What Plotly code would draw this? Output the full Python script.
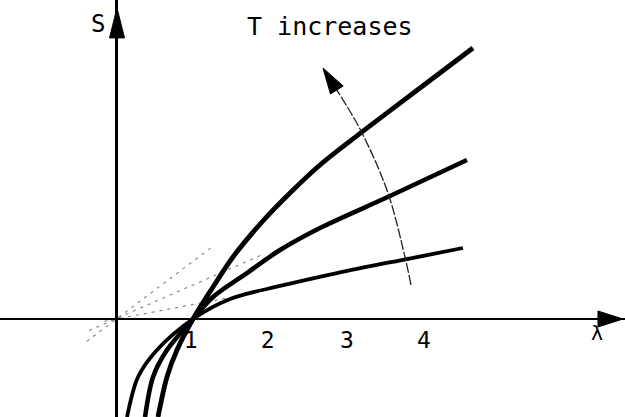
import math
import plotly.graph_objects as go

# ---- data (lambda, S) ----
lam_high = [0.545, 0.662, 0.792, 1.0, 1.260, 1.519, 1.896, 2.260, 2.649, 3.195, 3.948, 4.636]
s_high = [-1.273, -0.753, -0.403, 0.0, 0.416, 0.805, 1.260, 1.636, 2.000, 2.429, 3.000, 3.519]

lam_mid = [0.377, 0.481, 0.662, 1.0, 1.260, 1.701, 2.130, 2.649, 3.558, 4.558]
s_mid = [-1.273, -0.753, -0.403, 0.0, 0.286, 0.597, 0.896, 1.182, 1.597, 2.065]

lam_low = [0.143, 0.286, 0.532, 1.0, 1.481, 2.130, 2.870, 3.779, 4.506]
s_low = [-1.273, -0.753, -0.403, 0.0, 0.260, 0.429, 0.597, 0.779, 0.922]

# dotted lines through the origin
dot_lam = [[-0.38, 1.26], [-0.35, 1.91], [-0.15, 1.48]]
dot_s = [[-0.29, 0.945], [-0.15, 0.84], [-0.03, 0.28]]

# "T increases" arc
arc_lam = [3.831, 3.753, 3.532, 3.195, 2.909, 2.779]
arc_s = [0.442, 0.805, 1.636, 2.416, 2.909, 3.104]
arc_tip = (2.688, 3.260)

tick_vals = [0.97, 1.97, 3.0, 4.0]
tick_text = ["1", "2", "3", "4"]

PX = 77.0  # pixels per unit (both axes)
X_RANGE = [-116 / PX, (625 - 116) / PX]
Y_RANGE = [(319 - 417) / PX, 319 / PX]

FONT = "DejaVu Sans Mono"

fig = go.Figure()

for lx, sy in zip(dot_lam, dot_s):
    fig.add_trace(go.Scatter(x=lx, y=sy, mode="lines",
                             line=dict(color="#808080", width=1.1, dash="3px,5px"),
                             hoverinfo="skip", showlegend=False))

for lx, sy, w in [(lam_low, s_low, 3.8), (lam_mid, s_mid, 4.6), (lam_high, s_high, 4.8)]:
    fig.add_trace(go.Scatter(x=lx, y=sy, mode="lines",
                             line=dict(color="black", width=w, shape="spline", smoothing=0.9),
                             hoverinfo="skip", showlegend=False))

fig.add_trace(go.Scatter(x=arc_lam, y=arc_s, mode="lines",
                         line=dict(color="#222222", width=1.3, shape="spline", dash="10px,2px"),
                         hoverinfo="skip", showlegend=False))


def head(tip, frm, length_px, width_px):
    dx, dy = tip[0] - frm[0], tip[1] - frm[1]
    n = math.hypot(dx, dy)
    ux, uy = dx / n, dy / n
    L = length_px / PX
    W = width_px / PX / 2
    bx, by = tip[0] - ux * L, tip[1] - uy * L
    px_, py_ = -uy, ux
    p1 = (bx + px_ * W, by + py_ * W)
    p2 = (bx - px_ * W, by - py_ * W)
    return dict(type="path", xref="x", yref="y",
                path=f"M{tip[0]},{tip[1]} L{p1[0]},{p1[1]} L{p2[0]},{p2[1]} Z",
                fillcolor="black", line=dict(color="black", width=1))


shapes = [
    head((0.013, 4.04), (0.013, 0.0), 30, 15),
    head((6.584, 0.0), (5.0, 0.0), 25, 16),
    head(arc_tip, (arc_lam[-2], arc_s[-2]), 26, 15),
]

annotations = [
    dict(x=-0.234, y=3.83, text="S", showarrow=False, xref="x", yref="y",
         font=dict(family=FONT, size=24, color="black")),
    dict(x=2.779, y=3.80, text="T increases", showarrow=False, xref="x", yref="y",
         font=dict(family=FONT, size=25, color="black")),
    dict(x=6.247, y=-0.18, text="λ", showarrow=False, xref="x", yref="y",
         font=dict(family=FONT, size=20, color="black")),
]

fig.update_layout(
    width=625, height=417,
    margin=dict(l=0, r=0, t=0, b=0),
    paper_bgcolor="white", plot_bgcolor="white",
    showlegend=False,
    shapes=shapes,
    annotations=annotations,
    xaxis=dict(range=X_RANGE, showgrid=False, zeroline=False,
               showline=True, linecolor="black", linewidth=2.2,
               anchor="free", position=(417 - 319) / 417,
               tickvals=tick_vals, ticktext=tick_text, ticks="",
               tickfont=dict(family=FONT, size=23, color="black"),
               fixedrange=True),
    yaxis=dict(range=Y_RANGE, showgrid=False, zeroline=False,
               showline=True, linecolor="black", linewidth=2.6,
               anchor="free", position=116 / 625,
               showticklabels=False, ticks="",
               fixedrange=True),
)

fig.write_html(
    "out.html",
    config={"displayModeBar": False, "staticPlot": True},
    post_script="document.body.style.margin='0';document.body.style.overflow='hidden';",
)
